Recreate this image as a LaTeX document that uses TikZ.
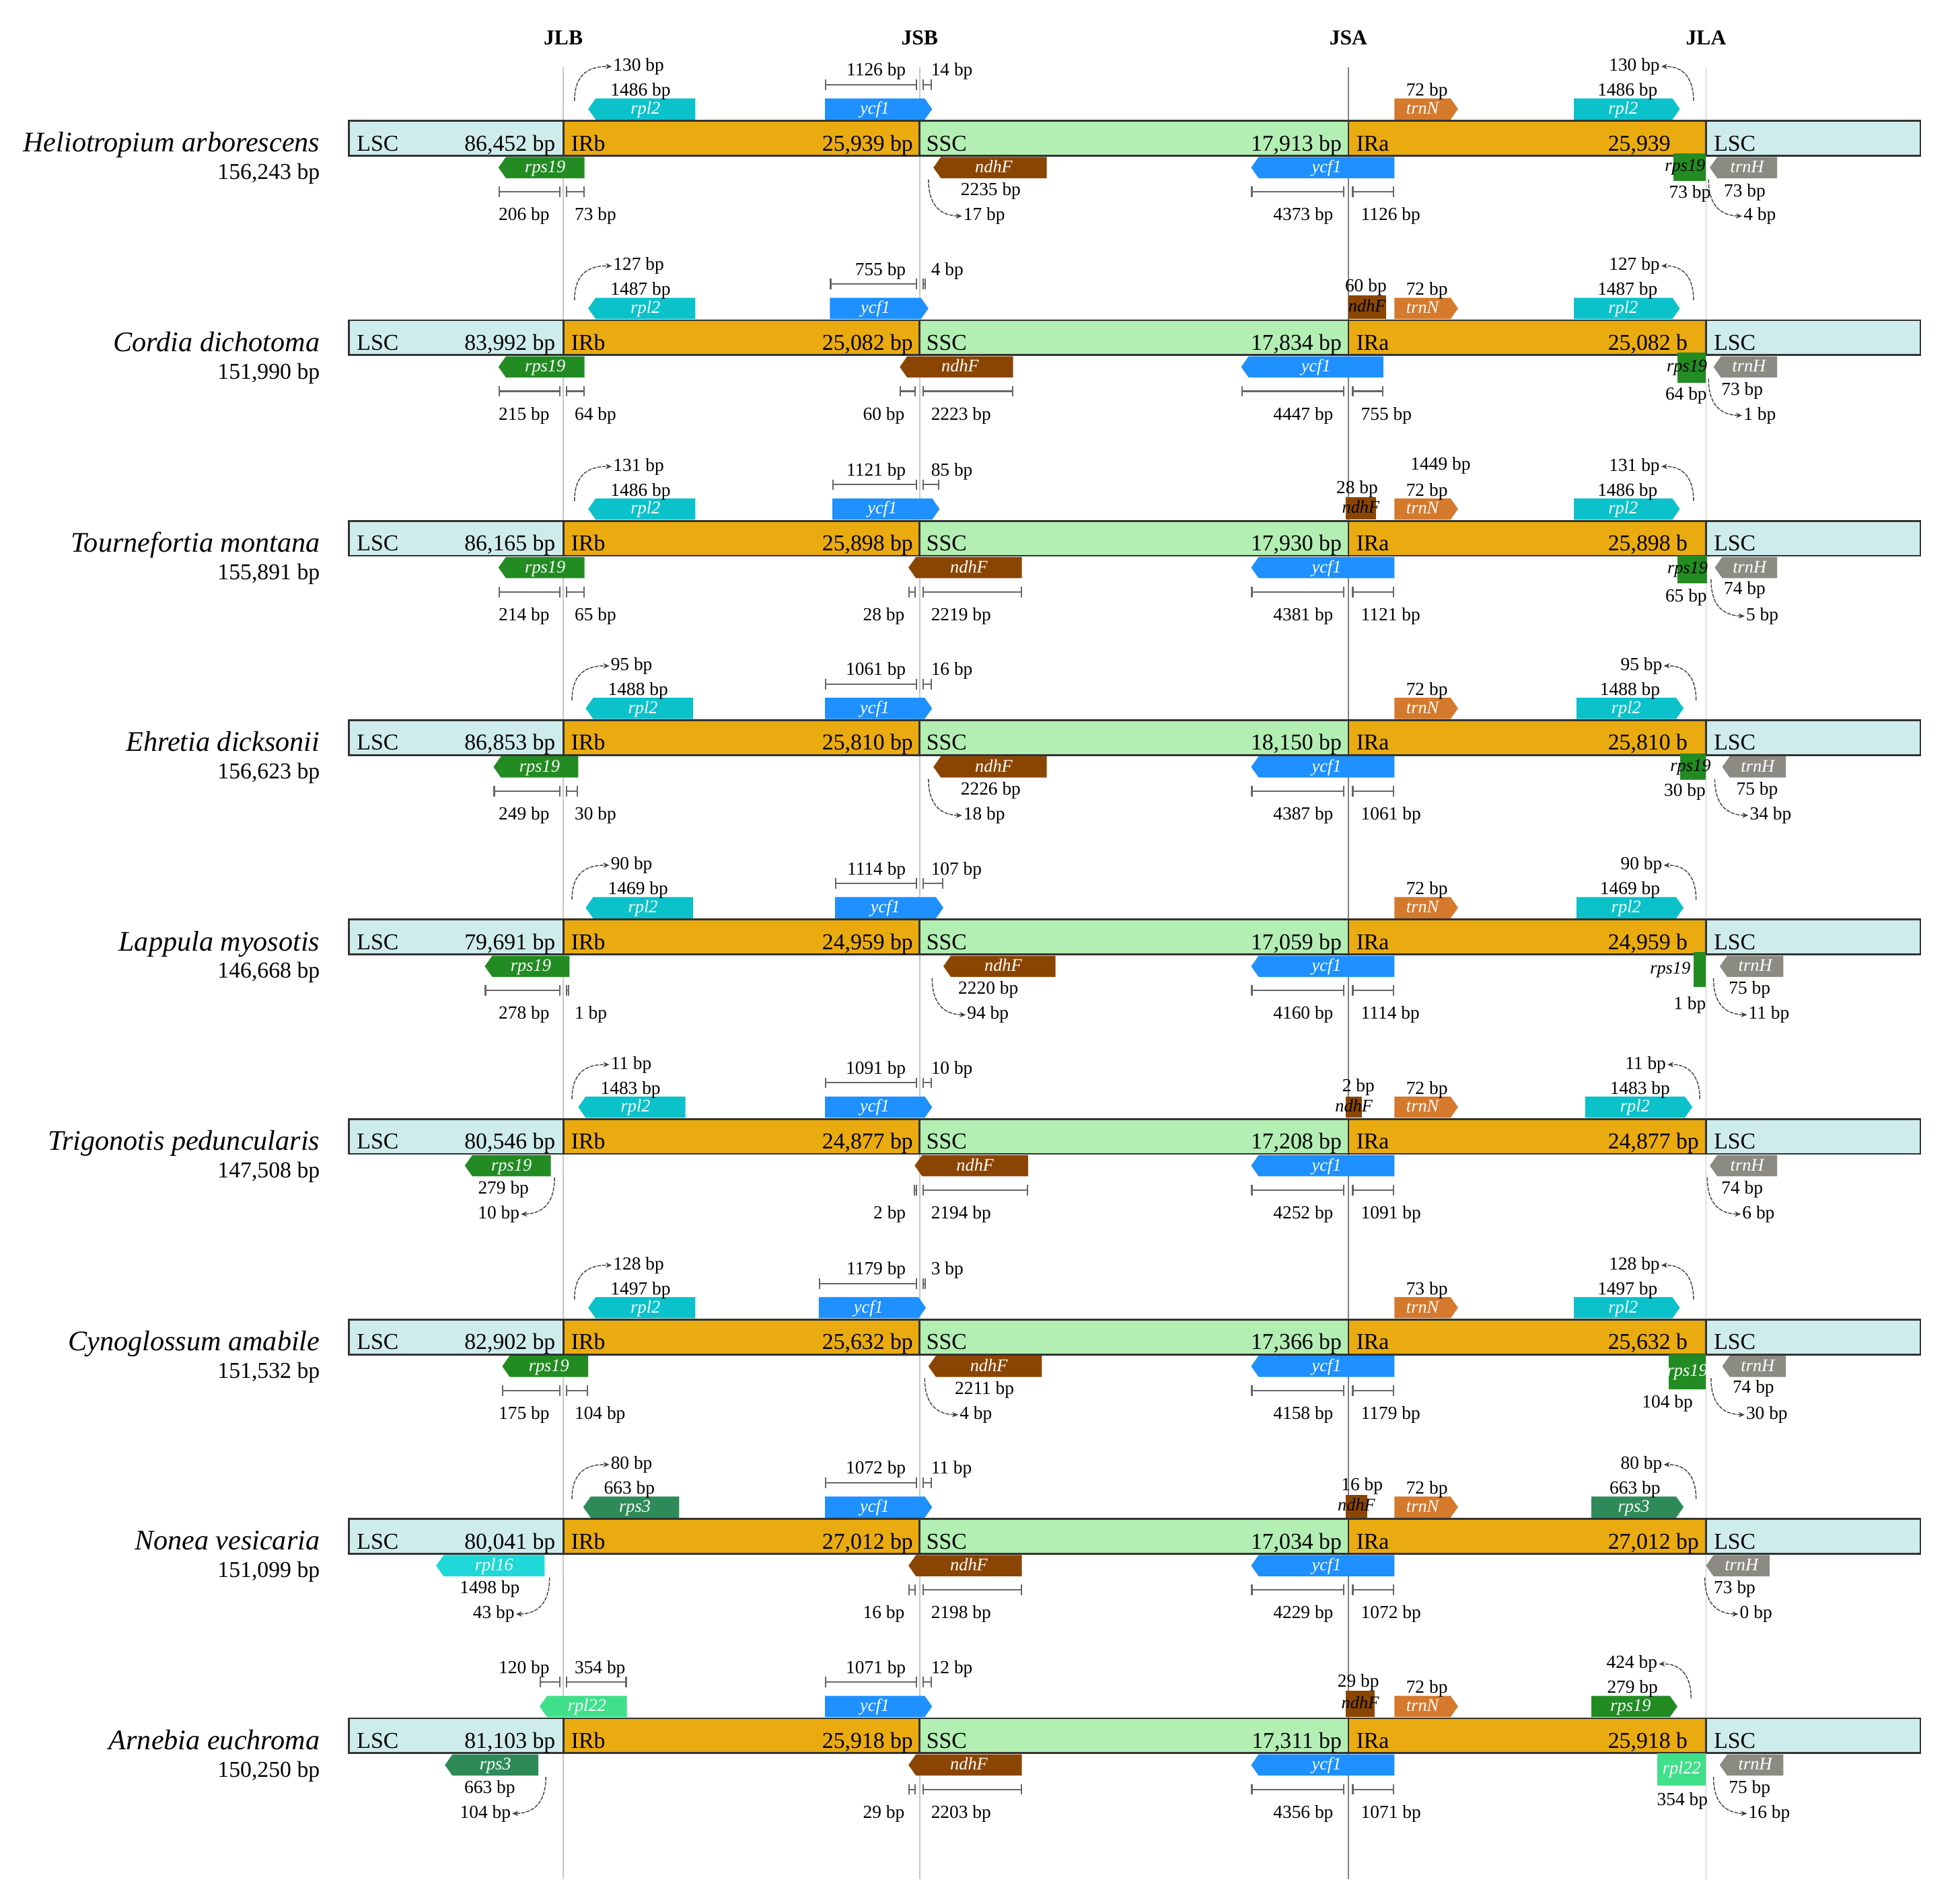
\documentclass[tikz,border=0pt]{standalone}
\usepackage{fontspec}
\setmainfont{Liberation Serif}
\usetikzlibrary{arrows.meta}

\definecolor{lscfill}{HTML}{CFECEC}
\definecolor{irfill}{HTML}{EAAB10}
\definecolor{sscfill}{HTML}{B3EEB3}
\definecolor{rplc}{HTML}{0BC2CB}
\definecolor{ycfb}{HTML}{1E90FF}
\definecolor{trno}{HTML}{D5792D}
\definecolor{rpsg}{HTML}{228B22}
\definecolor{ndhb}{HTML}{8B4503}
\definecolor{trng}{HTML}{8B8B83}
\definecolor{rpst}{HTML}{2E8B57}
\definecolor{rplt}{HTML}{1FD8D8}
\definecolor{rplv}{HTML}{40E08A}

\tikzset{
  sec/.style={font=\fontsize{9.6}{11}\selectfont, inner sep=0pt},
  secl/.style={sec, anchor=base west},
  secr/.style={sec, anchor=base east},
  spname/.style={font=\fontsize{12}{14}\selectfont\itshape, anchor=base east, inner sep=0pt},
  gsize/.style={sec, anchor=base east},
  bp/.style={font=\fontsize{7.8}{9}\selectfont, inner sep=0.4pt, anchor=base},
  bpl/.style={bp, anchor=base east},
  bpr/.style={bp, anchor=base west},
  gname/.style={font=\fontsize{7.5}{9}\selectfont\itshape, text=white, inner sep=0pt, anchor=base},
  gdark/.style={gname, text=black},
  junc/.style={font=\fontsize{9}{11}\selectfont\bfseries, inner sep=0pt, anchor=base},
  vline/.style={line width=0.5pt, black!22},
  vlinedk/.style={line width=0.6pt, black!50},
  barline/.style={line width=0.8pt, black!80},
  dimbar/.style={line width=0.6pt, black!60, {Bar[width=4.5pt]}-{Bar[width=4.5pt]}},
  arcar/.style={line width=0.4pt, black!75, dash pattern=on 1.6pt off 0.5pt, -{Stealth[length=2.6pt,width=2.2pt]}}
}

% gene pointing right: name, from, tip, top, colour, label
\newcommand{\geneR}[6]{%
  \fill[#5] (#2,#4) -- (#3-6,#4) -- (#3,#4+8.5) -- (#3-6,#4+17) -- (#2,#4+17) -- cycle;
  \node[gname] (#1) at ({(#2+#3)/2-3},#4+12.5) {#6};}
% gene pointing left: name, tip, to, top, colour, label
\newcommand{\geneL}[6]{%
  \fill[#5] (#2,#4+8.5) -- (#2+6,#4) -- (#3,#4) -- (#3,#4+17) -- (#2+6,#4+17) -- cycle;
  \node[gname] (#1) at ({(#2+#3)/2+3},#4+12.5) {#6};}
% plain gene box: name, x1, x2, top, bottom, colour, text style, label
\newcommand{\geneB}[8]{%
  \fill[#6] (#2,#4) rectangle (#3,#5);
  \node[#7] (#1) at ({(#2+#3)/2},{(#4+#5)/2+3.5}) {#8};}
% two length bars over / under a junction
\newcommand{\dimtop}[7]{%
  \draw[dimbar] (#2,-43) -- (#3,-43);
  \draw[dimbar] (#4,-43) -- (#5,-43);
  \node[bpl] (#1l) at (#3-8,-50) {#6};
  \node[bpr] (#1r) at (#4+6,-50) {#7};}
\newcommand{\dimbot}[7]{%
  \draw[dimbar] (#2,43) -- (#3,43);
  \draw[dimbar] (#4,43) -- (#5,43);
  \node[bpl] (#1l) at (#3-8,66) {#6};
  \node[bpr] (#1r) at (#4+6,66) {#7};}
% curved pointers
\newcommand{\toparcL}[3]{%
  \node[bpr] (#1) at (#2+30,-54) {#3};
  \coordinate (#1s) at (#2,-30);
  \draw[arcar] (#1s) .. controls (#2,-48) and (#2+8,-58) .. (#1.west);}
\newcommand{\toparcR}[3]{%
  \node[bpl] (#1) at (#2-26,-54) {#3};
  \coordinate (#1s) at (#2,-30);
  \draw[arcar] (#1s) .. controls (#2,-48) and (#2-8,-58) .. (#1.east);}
\newcommand{\botarcR}[3]{%
  \node[bpr] (#1) at (#2+27,66) {#3};
  \coordinate (#1s) at (#2,33);
  \draw[arcar] (#1s) .. controls (#2,52) and (#2+8,62) .. (#1.west);}
\newcommand{\botarcL}[3]{%
  \node[bpl] (#1) at (#2-27,66) {#3};
  \coordinate (#1s) at (#2,33);
  \draw[arcar] (#1s) .. controls (#2,52) and (#2-8,62) .. (#1.east);}

\begin{document}
\begin{tikzpicture}[x=0.1852mm,y=-0.1852mm]
\fill[white] (0,0) rectangle (1568,1528);
\useasboundingbox (0,0) rectangle (1568,1528);

% junction lines
\node[junc] (jlb) at (452,36) {JLB};
\node[junc] (jsb) at (738,36) {JSB};
\node[junc] (jsa) at (1082,36) {JSA};
\node[junc] (jla) at (1369,36) {JLA};
\draw[vline] (452,54) -- (452,1508);
\draw[vline] (738,54) -- (738,1508);
\draw[vlinedk] (1082,54) -- (1082,1508);
\draw[vline] (1369,54) -- (1369,1508);

% genome bars
\foreach \yc/\sp/\gs/\lsc/\irb/\ssc/\ira [count=\i] in {
  111/{Heliotropium arborescens}/{156,243 bp}/{86,452 bp}/{25,939 bp}/{17,913 bp}/{25,939},
  271/{Cordia dichotoma}/{151,990 bp}/{83,992 bp}/{25,082 bp}/{17,834 bp}/{25,082 b},
  432/{Tournefortia montana}/{155,891 bp}/{86,165 bp}/{25,898 bp}/{17,930 bp}/{25,898 b},
  592/{Ehretia dicksonii}/{156,623 bp}/{86,853 bp}/{25,810 bp}/{18,150 bp}/{25,810 b},
  752/{Lappula myosotis}/{146,668 bp}/{79,691 bp}/{24,959 bp}/{17,059 bp}/{24,959 b},
  912/{Trigonotis peduncularis}/{147,508 bp}/{80,546 bp}/{24,877 bp}/{17,208 bp}/{24,877 bp},
  1073/{Cynoglossum amabile}/{151,532 bp}/{82,902 bp}/{25,632 bp}/{17,366 bp}/{25,632 b},
  1233/{Nonea vesicaria}/{151,099 bp}/{80,041 bp}/{27,012 bp}/{17,034 bp}/{27,012 bp},
  1393/{Arnebia euchroma}/{150,250 bp}/{81,103 bp}/{25,918 bp}/{17,311 bp}/{25,918 b}}{
  \begin{scope}[shift={(0,\yc)}]
    \fill[lscfill] (280,-14) rectangle (452,14);
    \fill[irfill] (452,-14) rectangle (738,14);
    \fill[sscfill] (738,-14) rectangle (1082,14);
    \fill[irfill] (1082,-14) rectangle (1369,14);
    \fill[lscfill] (1369,-14) rectangle (1541,14);
    \draw[barline] (280,-14) rectangle (1541,14) (452,-14) -- (452,14)
      (738,-14) -- (738,14) (1082,-14) -- (1082,14) (1369,-14) -- (1369,14);
    \node[spname] (sp\i) at (257,11) {\sp};
    \node[gsize] (gs\i) at (257,33) {\gs};
    \node[secl] (ls\i) at (286,10) {LSC};
    \node[secr] (lsn\i) at (446,10) {\lsc};
    \node[secl] (ib\i) at (458,10) {IRb};
    \node[secr] (ibn\i) at (733,10) {\irb};
    \node[secl] (sc\i) at (743,10) {SSC};
    \node[secr] (scn\i) at (1077,10) {\ssc};
    \node[secl] (ia\i) at (1088,10) {IRa};
    \node[secl] (ian\i) at (1290,10) {\ira};
    \node[secl] (lb\i) at (1375,10) {LSC};
  \end{scope}}

% row 1
\begin{scope}[shift={(0,111)}]
\geneL{r1a}{472}{558}{-32}{rplc}{rpl2}
\node[bp] (r1b) at (514,-34) {1486 bp};
\toparcL{r1c}{461}{130 bp}
\geneL{r1d}{400}{469}{15}{rpsg}{rps19}
\dimbot{r1e}{400}{450}{454}{469}{206 bp}{73 bp}
\geneR{r1f}{662}{748}{-32}{ycfb}{ycf1}
\dimtop{r1g}{662}{736}{740}{748}{1126 bp}{14 bp}
\geneL{r1h}{749}{840}{15}{ndhb}{ndhF}
\node[bp] (r1i) at (795,46) {2235 bp};
\botarcR{r1j}{745}{17 bp}
\geneL{r1k}{1004}{1119}{15}{ycfb}{ycf1}
\dimbot{r1l}{1004}{1079}{1085}{1119}{4373 bp}{1126 bp}
\geneR{r1m}{1119}{1170}{-32}{trno}{trnN}
\node[bp] (r1n) at (1145,-34) {72 bp};
\geneR{r1o}{1263}{1348}{-32}{rplc}{rpl2}
\node[bp] (r1p) at (1306,-34) {1486 bp};
\toparcR{r1q}{1359}{130 bp}
\geneB{r1r}{1343}{1369}{12}{34}{rpsg}{gdark,xshift=-2pt}{rps19}
\node[bp] (r1s) at (1356,48) {73 bp};
\geneL{r1t}{1372}{1426}{15}{trng}{trnH}
\node[bp] (r1u) at (1400,47) {73 bp};
\botarcR{r1v}{1371}{4 bp}
\end{scope}

% row 2
\begin{scope}[shift={(0,271)}]
\geneL{r2a}{472}{558}{-32}{rplc}{rpl2}
\node[bp] (r2b) at (514,-34) {1487 bp};
\toparcL{r2c}{461}{127 bp}
\geneL{r2d}{400}{469}{15}{rpsg}{rps19}
\dimbot{r2e}{400}{450}{454}{469}{215 bp}{64 bp}
\geneR{r2f}{666}{745}{-32}{ycfb}{ycf1}
\dimtop{r2g}{666}{736}{740}{743}{755 bp}{4 bp}
\geneL{r2h}{722}{813}{15}{ndhb}{ndhF}
\dimbot{r2i}{722}{735}{740}{813}{60 bp}{2223 bp}
\geneB{r2j}{1082}{1112}{-34}{-15}{ndhb}{gdark}{ndhF}
\node[bp] (r2k) at (1096,-37) {60 bp};
\geneR{r2l}{1119}{1170}{-32}{trno}{trnN}
\node[bp] (r2m) at (1145,-34) {72 bp};
\geneL{r2n}{996}{1110}{15}{ycfb}{ycf1}
\dimbot{r2o}{996}{1079}{1085}{1110}{4447 bp}{755 bp}
\geneR{r2p}{1263}{1348}{-32}{rplc}{rpl2}
\node[bp] (r2q) at (1306,-34) {1487 bp};
\toparcR{r2r}{1359}{127 bp}
\geneB{r2s}{1346}{1369}{12}{36}{rpsg}{gdark,xshift=-2pt}{rps19}
\node[bp] (r2t) at (1353,50) {64 bp};
\geneL{r2u}{1375}{1426}{15}{trng}{trnH}
\node[bp] (r2v) at (1398,46) {73 bp};
\botarcR{r2w}{1371}{1 bp}
\end{scope}

% row 3
\begin{scope}[shift={(0,432)}]
\geneL{r3a}{472}{558}{-32}{rplc}{rpl2}
\node[bp] (r3b) at (514,-34) {1486 bp};
\toparcL{r3c}{461}{131 bp}
\geneL{r3d}{400}{469}{15}{rpsg}{rps19}
\dimbot{r3e}{400}{450}{454}{469}{214 bp}{65 bp}
\geneR{r3f}{668}{754}{-32}{ycfb}{ycf1}
\dimtop{r3g}{668}{736}{740}{754}{1121 bp}{85 bp}
\geneL{r3h}{729}{820}{15}{ndhb}{ndhF}
\dimbot{r3i}{729}{735}{740}{820}{28 bp}{2219 bp}
\geneB{r3j}{1080}{1104}{-33}{-15}{ndhb}{gdark}{ndhF}
\node[bp] (r3k) at (1089,-36) {28 bp};
\node[bp] (r3l) at (1156,-55) {1449 bp};
\geneR{r3m}{1119}{1170}{-32}{trno}{trnN}
\node[bp] (r3n) at (1145,-34) {72 bp};
\geneL{r3o}{1004}{1119}{15}{ycfb}{ycf1}
\dimbot{r3p}{1004}{1079}{1085}{1119}{4381 bp}{1121 bp}
\geneR{r3q}{1263}{1348}{-32}{rplc}{rpl2}
\node[bp] (r3r) at (1306,-34) {1486 bp};
\toparcR{r3s}{1359}{131 bp}
\geneB{r3t}{1346}{1370}{14}{36}{rpsg}{gdark,xshift=-2pt}{rps19}
\node[bp] (r3u) at (1353,51) {65 bp};
\geneL{r3v}{1376}{1426}{15}{trng}{trnH}
\node[bp] (r3w) at (1400,45) {74 bp};
\botarcR{r3x}{1373}{5 bp}
\end{scope}

% row 4
\begin{scope}[shift={(0,592)}]
\geneL{r4a}{470}{556}{-32}{rplc}{rpl2}
\node[bp] (r4b) at (512,-34) {1488 bp};
\toparcL{r4c}{459}{95 bp}
\geneL{r4d}{396}{464}{15}{rpsg}{rps19}
\dimbot{r4e}{396}{450}{454}{464}{249 bp}{30 bp}
\geneR{r4f}{662}{748}{-32}{ycfb}{ycf1}
\dimtop{r4g}{662}{736}{740}{748}{1061 bp}{16 bp}
\geneL{r4h}{749}{840}{15}{ndhb}{ndhF}
\node[bp] (r4i) at (795,46) {2226 bp};
\botarcR{r4j}{745}{18 bp}
\geneR{r4k}{1119}{1170}{-32}{trno}{trnN}
\node[bp] (r4l) at (1145,-34) {72 bp};
\geneL{r4m}{1004}{1119}{15}{ycfb}{ycf1}
\dimbot{r4n}{1004}{1079}{1085}{1119}{4387 bp}{1061 bp}
\geneR{r4o}{1265}{1351}{-32}{rplc}{rpl2}
\node[bp] (r4p) at (1308,-34) {1488 bp};
\toparcR{r4q}{1361}{95 bp}
\geneB{r4r}{1348}{1369}{13}{34}{rpsg}{gdark,xshift=-1pt}{rps19}
\node[bp] (r4s) at (1352,47) {30 bp};
\geneL{r4t}{1382}{1433}{15}{trng}{trnH}
\node[bp] (r4u) at (1410,46) {75 bp};
\botarcR{r4v}{1376}{34 bp}
\end{scope}

% row 5
\begin{scope}[shift={(0,752)}]
\geneL{r5a}{470}{556}{-32}{rplc}{rpl2}
\node[bp] (r5b) at (512,-34) {1469 bp};
\toparcL{r5c}{459}{90 bp}
\geneL{r5d}{389}{457}{15}{rpsg}{rps19}
\dimbot{r5e}{389}{450}{454}{457}{278 bp}{1 bp}
\geneR{r5f}{670}{757}{-32}{ycfb}{ycf1}
\dimtop{r5g}{670}{736}{740}{757}{1114 bp}{107 bp}
\geneL{r5h}{757}{847}{15}{ndhb}{ndhF}
\node[bp] (r5i) at (793,46) {2220 bp};
\botarcR{r5j}{748}{94 bp}
\geneR{r5k}{1119}{1170}{-32}{trno}{trnN}
\node[bp] (r5l) at (1145,-34) {72 bp};
\geneL{r5m}{1004}{1119}{15}{ycfb}{ycf1}
\dimbot{r5n}{1004}{1079}{1085}{1119}{4160 bp}{1114 bp}
\geneR{r5o}{1265}{1351}{-32}{rplc}{rpl2}
\node[bp] (r5p) at (1308,-34) {1469 bp};
\toparcR{r5q}{1361}{90 bp}
\geneB{r5r}{1359}{1369}{12}{40}{rpsg}{gdark,xshift=-12.5pt}{rps19}
\node[bp] (r5s) at (1356,58) {1 bp};
\geneL{r5t}{1380}{1431}{15}{trng}{trnH}
\node[bp] (r5u) at (1404,46) {75 bp};
\botarcR{r5v}{1375}{11 bp}
\end{scope}

% row 6
\begin{scope}[shift={(0,912)}]
\geneL{r6a}{464}{550}{-32}{rplc}{rpl2}
\node[bp] (r6b) at (506,-34) {1483 bp};
\toparcL{r6c}{459}{11 bp}
\geneL{r6d}{373}{442}{15}{rpsg}{rps19}
\node[bp] (r6e) at (404,46) {279 bp};
\botarcL{r6f}{445}{10 bp}
\geneR{r6g}{662}{748}{-32}{ycfb}{ycf1}
\dimtop{r6h}{662}{736}{740}{748}{1091 bp}{10 bp}
\geneL{r6i}{734}{825}{15}{ndhb}{ndhF}
\dimbot{r6j}{733}{736}{740}{825}{2 bp}{2194 bp}
\geneB{r6k}{1080}{1093}{-32}{-15}{ndhb}{gdark}{ndhF}
\node[bp] (r6l) at (1090,-36) {2 bp};
\geneR{r6m}{1119}{1170}{-32}{trno}{trnN}
\node[bp] (r6n) at (1145,-34) {72 bp};
\geneL{r6o}{1004}{1119}{15}{ycfb}{ycf1}
\dimbot{r6p}{1004}{1079}{1085}{1119}{4252 bp}{1091 bp}
\geneR{r6q}{1272}{1358}{-32}{rplc}{rpl2}
\node[bp] (r6r) at (1316,-34) {1483 bp};
\toparcR{r6s}{1364}{11 bp}
\geneL{r6t}{1372}{1426}{15}{trng}{trnH}
\node[bp] (r6u) at (1398,46) {74 bp};
\botarcR{r6v}{1370}{6 bp}
\end{scope}

% row 7
\begin{scope}[shift={(0,1073)}]
\geneL{r7a}{472}{558}{-32}{rplc}{rpl2}
\node[bp] (r7b) at (514,-34) {1497 bp};
\toparcL{r7c}{461}{128 bp}
\geneL{r7d}{403}{472}{15}{rpsg}{rps19}
\dimbot{r7e}{403}{450}{454}{472}{175 bp}{104 bp}
\geneR{r7f}{657}{743}{-32}{ycfb}{ycf1}
\dimtop{r7g}{657}{736}{740}{743}{1179 bp}{3 bp}
\geneL{r7h}{745}{836}{15}{ndhb}{ndhF}
\node[bp] (r7i) at (790,46) {2211 bp};
\botarcR{r7j}{742}{4 bp}
\geneR{r7k}{1119}{1170}{-32}{trno}{trnN}
\node[bp] (r7l) at (1145,-34) {73 bp};
\geneL{r7m}{1004}{1119}{15}{ycfb}{ycf1}
\dimbot{r7n}{1004}{1079}{1085}{1119}{4158 bp}{1179 bp}
\geneR{r7o}{1263}{1348}{-32}{rplc}{rpl2}
\node[bp] (r7p) at (1306,-34) {1497 bp};
\toparcR{r7q}{1359}{128 bp}
\geneB{r7r}{1339}{1369}{14}{42}{rpsg}{gname}{rps19}
\node[bp] (r7s) at (1338,57) {104 bp};
\geneL{r7t}{1382}{1433}{15}{trng}{trnH}
\node[bp] (r7u) at (1407,45) {74 bp};
\botarcR{r7v}{1373}{30 bp}
\end{scope}

% row 8
\begin{scope}[shift={(0,1233)}]
\geneL{r8a}{468}{545}{-32}{rpst}{rps3}
\node[bp] (r8b) at (505,-34) {663 bp};
\toparcL{r8c}{459}{80 bp}
\geneL{r8d}{350}{437}{15}{rplt}{rpl16}
\node[bp] (r8e) at (393,46) {1498 bp};
\botarcL{r8f}{441}{43 bp}
\geneR{r8g}{662}{748}{-32}{ycfb}{ycf1}
\dimtop{r8h}{662}{736}{740}{748}{1072 bp}{11 bp}
\geneL{r8i}{729}{820}{15}{ndhb}{ndhF}
\dimbot{r8j}{729}{735}{740}{820}{16 bp}{2198 bp}
\geneB{r8k}{1080}{1097}{-33}{-15}{ndhb}{gdark}{ndhF}
\node[bp] (r8l) at (1093,-37) {16 bp};
\geneR{r8m}{1119}{1170}{-32}{trno}{trnN}
\node[bp] (r8n) at (1145,-34) {72 bp};
\geneL{r8o}{1004}{1119}{15}{ycfb}{ycf1}
\dimbot{r8p}{1004}{1079}{1085}{1119}{4229 bp}{1072 bp}
\geneR{r8q}{1277}{1351}{-32}{rpst}{rps3}
\node[bp] (r8r) at (1312,-34) {663 bp};
\toparcR{r8s}{1361}{80 bp}
\geneL{r8t}{1369}{1420}{15}{trng}{trnH}
\node[bp] (r8u) at (1392,46) {73 bp};
\botarcR{r8v}{1368}{0 bp}
\end{scope}

% row 9
\begin{scope}[shift={(0,1393)}]
\geneL{r9a}{433}{503}{-32}{rplv}{rpl22}
\dimtop{r9b}{433}{450}{454}{503}{120 bp}{354 bp}
\geneL{r9c}{357}{432}{15}{rpst}{rps3}
\node[bp] (r9d) at (393,46) {663 bp};
\botarcL{r9e}{438}{104 bp}
\geneR{r9f}{662}{748}{-32}{ycfb}{ycf1}
\dimtop{r9g}{662}{736}{740}{748}{1071 bp}{12 bp}
\geneL{r9h}{729}{820}{15}{ndhb}{ndhF}
\dimbot{r9i}{729}{735}{740}{820}{29 bp}{2203 bp}
\geneB{r9j}{1080}{1103}{-36}{-15}{ndhb}{gdark}{ndhF}
\node[bp] (r9k) at (1090,-39) {29 bp};
\geneR{r9l}{1119}{1170}{-32}{trno}{trnN}
\node[bp] (r9m) at (1145,-34) {72 bp};
\geneL{r9n}{1004}{1119}{15}{ycfb}{ycf1}
\dimbot{r9o}{1004}{1079}{1085}{1119}{4356 bp}{1071 bp}
\geneR{r9p}{1277}{1346}{-32}{rpsg}{rps19}
\node[bp] (r9q) at (1310,-34) {279 bp};
\toparcR{r9r}{1357}{424 bp}
\geneB{r9s}{1330}{1369}{14}{40}{rplv}{gname}{rpl22}
\node[bp] (r9t) at (1350,56) {354 bp};
\geneL{r9u}{1380}{1431}{15}{trng}{trnH}
\node[bp] (r9v) at (1404,46) {75 bp};
\botarcR{r9w}{1375}{16 bp}
\end{scope}
\end{tikzpicture}
\end{document}
